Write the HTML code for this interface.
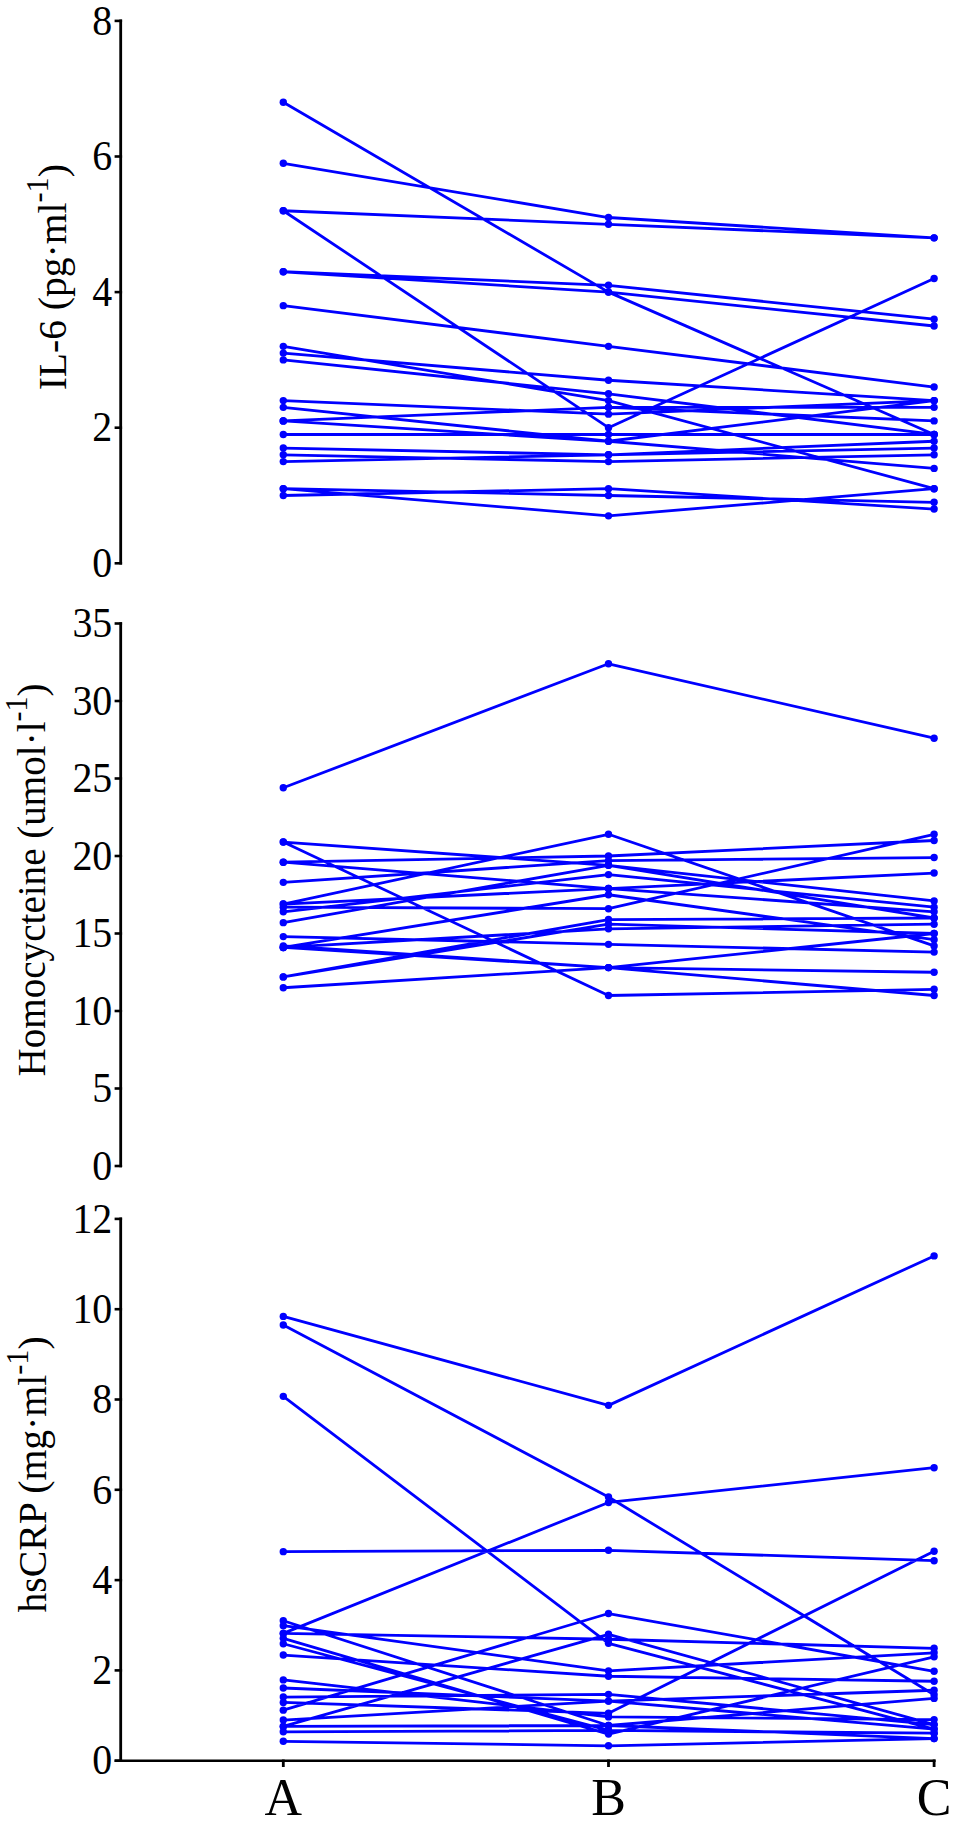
<!DOCTYPE html><html><head><meta charset="utf-8"><style>html,body{margin:0;padding:0;background:#fff;}svg{display:block;}text{font-family:"Liberation Serif",serif;fill:#000;}</style></head><body>
<svg width="957" height="1823" viewBox="0 0 957 1823">
<rect width="957" height="1823" fill="#fff"/>
<line x1="120.7" y1="19.60" x2="120.7" y2="564.60" stroke="#000" stroke-width="2.8"/>
<line x1="114.6" y1="563.30" x2="122.10000000000001" y2="563.30" stroke="#000" stroke-width="2.6"/>
<text transform="translate(112.3,577.00) scale(0.95,1)" font-size="42" text-anchor="end">0</text>
<line x1="114.6" y1="427.70" x2="122.10000000000001" y2="427.70" stroke="#000" stroke-width="2.6"/>
<text transform="translate(112.3,441.40) scale(0.95,1)" font-size="42" text-anchor="end">2</text>
<line x1="114.6" y1="292.10" x2="122.10000000000001" y2="292.10" stroke="#000" stroke-width="2.6"/>
<text transform="translate(112.3,305.80) scale(0.95,1)" font-size="42" text-anchor="end">4</text>
<line x1="114.6" y1="156.50" x2="122.10000000000001" y2="156.50" stroke="#000" stroke-width="2.6"/>
<text transform="translate(112.3,170.20) scale(0.95,1)" font-size="42" text-anchor="end">6</text>
<line x1="114.6" y1="20.90" x2="122.10000000000001" y2="20.90" stroke="#000" stroke-width="2.6"/>
<text transform="translate(112.3,34.60) scale(0.95,1)" font-size="42" text-anchor="end">8</text>
<path d="M283.3,102.26L608.5,292.10L934.1,434.48M283.3,163.28L608.5,217.52L934.1,237.86M283.3,210.74L608.5,224.30L934.1,237.86M283.3,210.74L608.5,427.70L934.1,278.54M283.3,271.76L608.5,285.32L934.1,319.22M283.3,271.76L608.5,292.10L934.1,326.00M283.3,305.66L608.5,346.34L934.1,387.02M283.3,346.34L608.5,400.58L934.1,488.72M283.3,353.12L608.5,380.24L934.1,400.58M283.3,359.90L608.5,393.80L934.1,434.48M283.3,400.58L608.5,414.14L934.1,400.58M283.3,407.36L608.5,441.26L934.1,400.58M283.3,420.92L608.5,407.36L934.1,407.36M283.3,420.92L608.5,407.36L934.1,420.92M283.3,420.92L608.5,441.26L934.1,468.38M283.3,434.48L608.5,434.48L934.1,434.48M283.3,448.04L608.5,454.82L934.1,441.26M283.3,454.82L608.5,461.60L934.1,454.82M283.3,461.60L608.5,454.82L934.1,448.04M283.3,488.72L608.5,515.84L934.1,488.72M283.3,488.72L608.5,495.50L934.1,502.28M283.3,495.50L608.5,488.72L934.1,509.06" fill="none" stroke="#0000ff" stroke-width="2.8" stroke-linejoin="round"/>
<g fill="#0000ff"><circle cx="283.3" cy="102.26" r="3.7"/><circle cx="608.5" cy="292.10" r="3.7"/><circle cx="934.1" cy="434.48" r="3.7"/><circle cx="283.3" cy="163.28" r="3.7"/><circle cx="608.5" cy="217.52" r="3.7"/><circle cx="934.1" cy="237.86" r="3.7"/><circle cx="283.3" cy="210.74" r="3.7"/><circle cx="608.5" cy="224.30" r="3.7"/><circle cx="934.1" cy="237.86" r="3.7"/><circle cx="283.3" cy="210.74" r="3.7"/><circle cx="608.5" cy="427.70" r="3.7"/><circle cx="934.1" cy="278.54" r="3.7"/><circle cx="283.3" cy="271.76" r="3.7"/><circle cx="608.5" cy="285.32" r="3.7"/><circle cx="934.1" cy="319.22" r="3.7"/><circle cx="283.3" cy="271.76" r="3.7"/><circle cx="608.5" cy="292.10" r="3.7"/><circle cx="934.1" cy="326.00" r="3.7"/><circle cx="283.3" cy="305.66" r="3.7"/><circle cx="608.5" cy="346.34" r="3.7"/><circle cx="934.1" cy="387.02" r="3.7"/><circle cx="283.3" cy="346.34" r="3.7"/><circle cx="608.5" cy="400.58" r="3.7"/><circle cx="934.1" cy="488.72" r="3.7"/><circle cx="283.3" cy="353.12" r="3.7"/><circle cx="608.5" cy="380.24" r="3.7"/><circle cx="934.1" cy="400.58" r="3.7"/><circle cx="283.3" cy="359.90" r="3.7"/><circle cx="608.5" cy="393.80" r="3.7"/><circle cx="934.1" cy="434.48" r="3.7"/><circle cx="283.3" cy="400.58" r="3.7"/><circle cx="608.5" cy="414.14" r="3.7"/><circle cx="934.1" cy="400.58" r="3.7"/><circle cx="283.3" cy="407.36" r="3.7"/><circle cx="608.5" cy="441.26" r="3.7"/><circle cx="934.1" cy="400.58" r="3.7"/><circle cx="283.3" cy="420.92" r="3.7"/><circle cx="608.5" cy="407.36" r="3.7"/><circle cx="934.1" cy="407.36" r="3.7"/><circle cx="283.3" cy="420.92" r="3.7"/><circle cx="608.5" cy="407.36" r="3.7"/><circle cx="934.1" cy="420.92" r="3.7"/><circle cx="283.3" cy="420.92" r="3.7"/><circle cx="608.5" cy="441.26" r="3.7"/><circle cx="934.1" cy="468.38" r="3.7"/><circle cx="283.3" cy="434.48" r="3.7"/><circle cx="608.5" cy="434.48" r="3.7"/><circle cx="934.1" cy="434.48" r="3.7"/><circle cx="283.3" cy="448.04" r="3.7"/><circle cx="608.5" cy="454.82" r="3.7"/><circle cx="934.1" cy="441.26" r="3.7"/><circle cx="283.3" cy="454.82" r="3.7"/><circle cx="608.5" cy="461.60" r="3.7"/><circle cx="934.1" cy="454.82" r="3.7"/><circle cx="283.3" cy="461.60" r="3.7"/><circle cx="608.5" cy="454.82" r="3.7"/><circle cx="934.1" cy="448.04" r="3.7"/><circle cx="283.3" cy="488.72" r="3.7"/><circle cx="608.5" cy="515.84" r="3.7"/><circle cx="934.1" cy="488.72" r="3.7"/><circle cx="283.3" cy="488.72" r="3.7"/><circle cx="608.5" cy="495.50" r="3.7"/><circle cx="934.1" cy="502.28" r="3.7"/><circle cx="283.3" cy="495.50" r="3.7"/><circle cx="608.5" cy="488.72" r="3.7"/><circle cx="934.1" cy="509.06" r="3.7"/></g>
<line x1="120.7" y1="622.20" x2="120.7" y2="1167.30" stroke="#000" stroke-width="2.8"/>
<line x1="114.6" y1="1166.00" x2="122.10000000000001" y2="1166.00" stroke="#000" stroke-width="2.6"/>
<text transform="translate(112.3,1179.70) scale(0.95,1)" font-size="42" text-anchor="end">0</text>
<line x1="114.6" y1="1088.50" x2="122.10000000000001" y2="1088.50" stroke="#000" stroke-width="2.6"/>
<text transform="translate(112.3,1102.20) scale(0.95,1)" font-size="42" text-anchor="end">5</text>
<line x1="114.6" y1="1011.00" x2="122.10000000000001" y2="1011.00" stroke="#000" stroke-width="2.6"/>
<text transform="translate(112.3,1024.70) scale(0.95,1)" font-size="42" text-anchor="end">10</text>
<line x1="114.6" y1="933.50" x2="122.10000000000001" y2="933.50" stroke="#000" stroke-width="2.6"/>
<text transform="translate(112.3,947.20) scale(0.95,1)" font-size="42" text-anchor="end">15</text>
<line x1="114.6" y1="856.00" x2="122.10000000000001" y2="856.00" stroke="#000" stroke-width="2.6"/>
<text transform="translate(112.3,869.70) scale(0.95,1)" font-size="42" text-anchor="end">20</text>
<line x1="114.6" y1="778.50" x2="122.10000000000001" y2="778.50" stroke="#000" stroke-width="2.6"/>
<text transform="translate(112.3,792.20) scale(0.95,1)" font-size="42" text-anchor="end">25</text>
<line x1="114.6" y1="701.00" x2="122.10000000000001" y2="701.00" stroke="#000" stroke-width="2.6"/>
<text transform="translate(112.3,714.70) scale(0.95,1)" font-size="42" text-anchor="end">30</text>
<line x1="114.6" y1="623.50" x2="122.10000000000001" y2="623.50" stroke="#000" stroke-width="2.6"/>
<text transform="translate(112.3,637.20) scale(0.95,1)" font-size="42" text-anchor="end">35</text>
<path d="M283.3,787.80L608.5,663.80L934.1,738.20M283.3,842.05L608.5,865.30L934.1,900.95M283.3,842.05L608.5,995.50L934.1,989.30M283.3,862.20L608.5,856.00L934.1,840.50M283.3,862.20L608.5,888.55L934.1,873.05M283.3,882.35L608.5,860.65L934.1,857.55M283.3,904.05L608.5,834.30L934.1,945.90M283.3,904.05L608.5,888.55L934.1,911.80M283.3,907.15L608.5,908.70L934.1,834.30M283.3,911.80L608.5,874.60L934.1,907.15M283.3,922.65L608.5,865.30L934.1,918.00M283.3,936.60L608.5,944.35L934.1,952.10M283.3,947.45L608.5,894.75L934.1,939.70M283.3,947.45L608.5,928.85L934.1,924.20M283.3,947.45L608.5,967.60L934.1,972.25M283.3,976.90L608.5,919.55L934.1,918.00M283.3,976.90L608.5,924.20L934.1,933.50M283.3,987.75L608.5,967.60L934.1,995.50M283.3,945.90L608.5,967.60L934.1,933.50" fill="none" stroke="#0000ff" stroke-width="2.8" stroke-linejoin="round"/>
<g fill="#0000ff"><circle cx="283.3" cy="787.80" r="3.7"/><circle cx="608.5" cy="663.80" r="3.7"/><circle cx="934.1" cy="738.20" r="3.7"/><circle cx="283.3" cy="842.05" r="3.7"/><circle cx="608.5" cy="865.30" r="3.7"/><circle cx="934.1" cy="900.95" r="3.7"/><circle cx="283.3" cy="842.05" r="3.7"/><circle cx="608.5" cy="995.50" r="3.7"/><circle cx="934.1" cy="989.30" r="3.7"/><circle cx="283.3" cy="862.20" r="3.7"/><circle cx="608.5" cy="856.00" r="3.7"/><circle cx="934.1" cy="840.50" r="3.7"/><circle cx="283.3" cy="862.20" r="3.7"/><circle cx="608.5" cy="888.55" r="3.7"/><circle cx="934.1" cy="873.05" r="3.7"/><circle cx="283.3" cy="882.35" r="3.7"/><circle cx="608.5" cy="860.65" r="3.7"/><circle cx="934.1" cy="857.55" r="3.7"/><circle cx="283.3" cy="904.05" r="3.7"/><circle cx="608.5" cy="834.30" r="3.7"/><circle cx="934.1" cy="945.90" r="3.7"/><circle cx="283.3" cy="904.05" r="3.7"/><circle cx="608.5" cy="888.55" r="3.7"/><circle cx="934.1" cy="911.80" r="3.7"/><circle cx="283.3" cy="907.15" r="3.7"/><circle cx="608.5" cy="908.70" r="3.7"/><circle cx="934.1" cy="834.30" r="3.7"/><circle cx="283.3" cy="911.80" r="3.7"/><circle cx="608.5" cy="874.60" r="3.7"/><circle cx="934.1" cy="907.15" r="3.7"/><circle cx="283.3" cy="922.65" r="3.7"/><circle cx="608.5" cy="865.30" r="3.7"/><circle cx="934.1" cy="918.00" r="3.7"/><circle cx="283.3" cy="936.60" r="3.7"/><circle cx="608.5" cy="944.35" r="3.7"/><circle cx="934.1" cy="952.10" r="3.7"/><circle cx="283.3" cy="947.45" r="3.7"/><circle cx="608.5" cy="894.75" r="3.7"/><circle cx="934.1" cy="939.70" r="3.7"/><circle cx="283.3" cy="947.45" r="3.7"/><circle cx="608.5" cy="928.85" r="3.7"/><circle cx="934.1" cy="924.20" r="3.7"/><circle cx="283.3" cy="947.45" r="3.7"/><circle cx="608.5" cy="967.60" r="3.7"/><circle cx="934.1" cy="972.25" r="3.7"/><circle cx="283.3" cy="976.90" r="3.7"/><circle cx="608.5" cy="919.55" r="3.7"/><circle cx="934.1" cy="918.00" r="3.7"/><circle cx="283.3" cy="976.90" r="3.7"/><circle cx="608.5" cy="924.20" r="3.7"/><circle cx="934.1" cy="933.50" r="3.7"/><circle cx="283.3" cy="987.75" r="3.7"/><circle cx="608.5" cy="967.60" r="3.7"/><circle cx="934.1" cy="995.50" r="3.7"/><circle cx="283.3" cy="945.90" r="3.7"/><circle cx="608.5" cy="967.60" r="3.7"/><circle cx="934.1" cy="933.50" r="3.7"/></g>
<line x1="120.7" y1="1217.60" x2="120.7" y2="1762.00" stroke="#000" stroke-width="2.8"/>
<line x1="114.6" y1="1760.70" x2="122.10000000000001" y2="1760.70" stroke="#000" stroke-width="2.6"/>
<text transform="translate(112.3,1774.40) scale(0.95,1)" font-size="42" text-anchor="end">0</text>
<line x1="114.6" y1="1670.40" x2="122.10000000000001" y2="1670.40" stroke="#000" stroke-width="2.6"/>
<text transform="translate(112.3,1684.10) scale(0.95,1)" font-size="42" text-anchor="end">2</text>
<line x1="114.6" y1="1580.10" x2="122.10000000000001" y2="1580.10" stroke="#000" stroke-width="2.6"/>
<text transform="translate(112.3,1593.80) scale(0.95,1)" font-size="42" text-anchor="end">4</text>
<line x1="114.6" y1="1489.80" x2="122.10000000000001" y2="1489.80" stroke="#000" stroke-width="2.6"/>
<text transform="translate(112.3,1503.50) scale(0.95,1)" font-size="42" text-anchor="end">6</text>
<line x1="114.6" y1="1399.50" x2="122.10000000000001" y2="1399.50" stroke="#000" stroke-width="2.6"/>
<text transform="translate(112.3,1413.20) scale(0.95,1)" font-size="42" text-anchor="end">8</text>
<line x1="114.6" y1="1309.20" x2="122.10000000000001" y2="1309.20" stroke="#000" stroke-width="2.6"/>
<text transform="translate(112.3,1322.90) scale(0.95,1)" font-size="42" text-anchor="end">10</text>
<line x1="114.6" y1="1218.90" x2="122.10000000000001" y2="1218.90" stroke="#000" stroke-width="2.6"/>
<text transform="translate(112.3,1232.60) scale(0.95,1)" font-size="42" text-anchor="end">12</text>
<path d="M283.3,1316.42L608.5,1405.37L934.1,1255.92M283.3,1325.00L608.5,1497.02L934.1,1694.78M283.3,1396.34L608.5,1643.31L934.1,1729.10M283.3,1551.66L608.5,1550.30L934.1,1560.69M283.3,1620.74L608.5,1725.48L934.1,1698.39M283.3,1625.70L608.5,1670.85L934.1,1652.79M283.3,1633.38L608.5,1502.44L934.1,1467.68M283.3,1633.38L608.5,1639.25L934.1,1648.28M283.3,1638.34L608.5,1734.06L934.1,1656.86M283.3,1643.76L608.5,1730.45L934.1,1733.16M283.3,1655.05L608.5,1676.27L934.1,1681.24M283.3,1679.88L608.5,1716.90L934.1,1719.61M283.3,1688.01L608.5,1701.10L934.1,1690.27M283.3,1697.04L608.5,1694.33L934.1,1724.58M283.3,1702.46L608.5,1713.29L934.1,1551.20M283.3,1710.13L608.5,1613.51L934.1,1671.30M283.3,1720.07L608.5,1701.10L934.1,1729.10M283.3,1726.39L608.5,1634.28L934.1,1724.58M283.3,1726.39L608.5,1725.48L934.1,1738.58M283.3,1731.80L608.5,1730.45L934.1,1733.16M283.3,1741.29L608.5,1745.80L934.1,1738.58" fill="none" stroke="#0000ff" stroke-width="2.8" stroke-linejoin="round"/>
<g fill="#0000ff"><circle cx="283.3" cy="1316.42" r="3.7"/><circle cx="608.5" cy="1405.37" r="3.7"/><circle cx="934.1" cy="1255.92" r="3.7"/><circle cx="283.3" cy="1325.00" r="3.7"/><circle cx="608.5" cy="1497.02" r="3.7"/><circle cx="934.1" cy="1694.78" r="3.7"/><circle cx="283.3" cy="1396.34" r="3.7"/><circle cx="608.5" cy="1643.31" r="3.7"/><circle cx="934.1" cy="1729.10" r="3.7"/><circle cx="283.3" cy="1551.66" r="3.7"/><circle cx="608.5" cy="1550.30" r="3.7"/><circle cx="934.1" cy="1560.69" r="3.7"/><circle cx="283.3" cy="1620.74" r="3.7"/><circle cx="608.5" cy="1725.48" r="3.7"/><circle cx="934.1" cy="1698.39" r="3.7"/><circle cx="283.3" cy="1625.70" r="3.7"/><circle cx="608.5" cy="1670.85" r="3.7"/><circle cx="934.1" cy="1652.79" r="3.7"/><circle cx="283.3" cy="1633.38" r="3.7"/><circle cx="608.5" cy="1502.44" r="3.7"/><circle cx="934.1" cy="1467.68" r="3.7"/><circle cx="283.3" cy="1633.38" r="3.7"/><circle cx="608.5" cy="1639.25" r="3.7"/><circle cx="934.1" cy="1648.28" r="3.7"/><circle cx="283.3" cy="1638.34" r="3.7"/><circle cx="608.5" cy="1734.06" r="3.7"/><circle cx="934.1" cy="1656.86" r="3.7"/><circle cx="283.3" cy="1643.76" r="3.7"/><circle cx="608.5" cy="1730.45" r="3.7"/><circle cx="934.1" cy="1733.16" r="3.7"/><circle cx="283.3" cy="1655.05" r="3.7"/><circle cx="608.5" cy="1676.27" r="3.7"/><circle cx="934.1" cy="1681.24" r="3.7"/><circle cx="283.3" cy="1679.88" r="3.7"/><circle cx="608.5" cy="1716.90" r="3.7"/><circle cx="934.1" cy="1719.61" r="3.7"/><circle cx="283.3" cy="1688.01" r="3.7"/><circle cx="608.5" cy="1701.10" r="3.7"/><circle cx="934.1" cy="1690.27" r="3.7"/><circle cx="283.3" cy="1697.04" r="3.7"/><circle cx="608.5" cy="1694.33" r="3.7"/><circle cx="934.1" cy="1724.58" r="3.7"/><circle cx="283.3" cy="1702.46" r="3.7"/><circle cx="608.5" cy="1713.29" r="3.7"/><circle cx="934.1" cy="1551.20" r="3.7"/><circle cx="283.3" cy="1710.13" r="3.7"/><circle cx="608.5" cy="1613.51" r="3.7"/><circle cx="934.1" cy="1671.30" r="3.7"/><circle cx="283.3" cy="1720.07" r="3.7"/><circle cx="608.5" cy="1701.10" r="3.7"/><circle cx="934.1" cy="1729.10" r="3.7"/><circle cx="283.3" cy="1726.39" r="3.7"/><circle cx="608.5" cy="1634.28" r="3.7"/><circle cx="934.1" cy="1724.58" r="3.7"/><circle cx="283.3" cy="1726.39" r="3.7"/><circle cx="608.5" cy="1725.48" r="3.7"/><circle cx="934.1" cy="1738.58" r="3.7"/><circle cx="283.3" cy="1731.80" r="3.7"/><circle cx="608.5" cy="1730.45" r="3.7"/><circle cx="934.1" cy="1733.16" r="3.7"/><circle cx="283.3" cy="1741.29" r="3.7"/><circle cx="608.5" cy="1745.80" r="3.7"/><circle cx="934.1" cy="1738.58" r="3.7"/></g>
<line x1="114.6" y1="1760.7" x2="935.6" y2="1760.7" stroke="#000" stroke-width="2.6"/>
<line x1="283.3" y1="1759.5" x2="283.3" y2="1767" stroke="#000" stroke-width="2.8"/>
<text x="283.3" y="1814.5" font-size="52" text-anchor="middle">A</text>
<line x1="608.5" y1="1759.5" x2="608.5" y2="1767" stroke="#000" stroke-width="2.8"/>
<text x="608.5" y="1814.5" font-size="52" text-anchor="middle">B</text>
<line x1="934.1" y1="1759.5" x2="934.1" y2="1767" stroke="#000" stroke-width="2.8"/>
<text x="934.1" y="1814.5" font-size="52" text-anchor="middle">C</text>
<text transform="translate(66.4,390.3) rotate(-90) scale(0.977,1)" font-size="40.5">IL-6 (pg·ml<tspan font-size="31" dy="-18.2">-1</tspan><tspan dy="18.2">)</tspan></text>
<text transform="translate(45.3,1076.5) rotate(-90) scale(0.966,1)" font-size="40.5">Homocycteine (umol·l<tspan font-size="31" dy="-18.2">-1</tspan><tspan dy="18.2">)</tspan></text>
<text transform="translate(45.8,1612.5) rotate(-90) scale(0.98,1)" font-size="40.5">hsCRP (mg·ml<tspan font-size="31" dy="-18.2">-1</tspan><tspan dy="18.2">)</tspan></text>
</svg></body></html>
